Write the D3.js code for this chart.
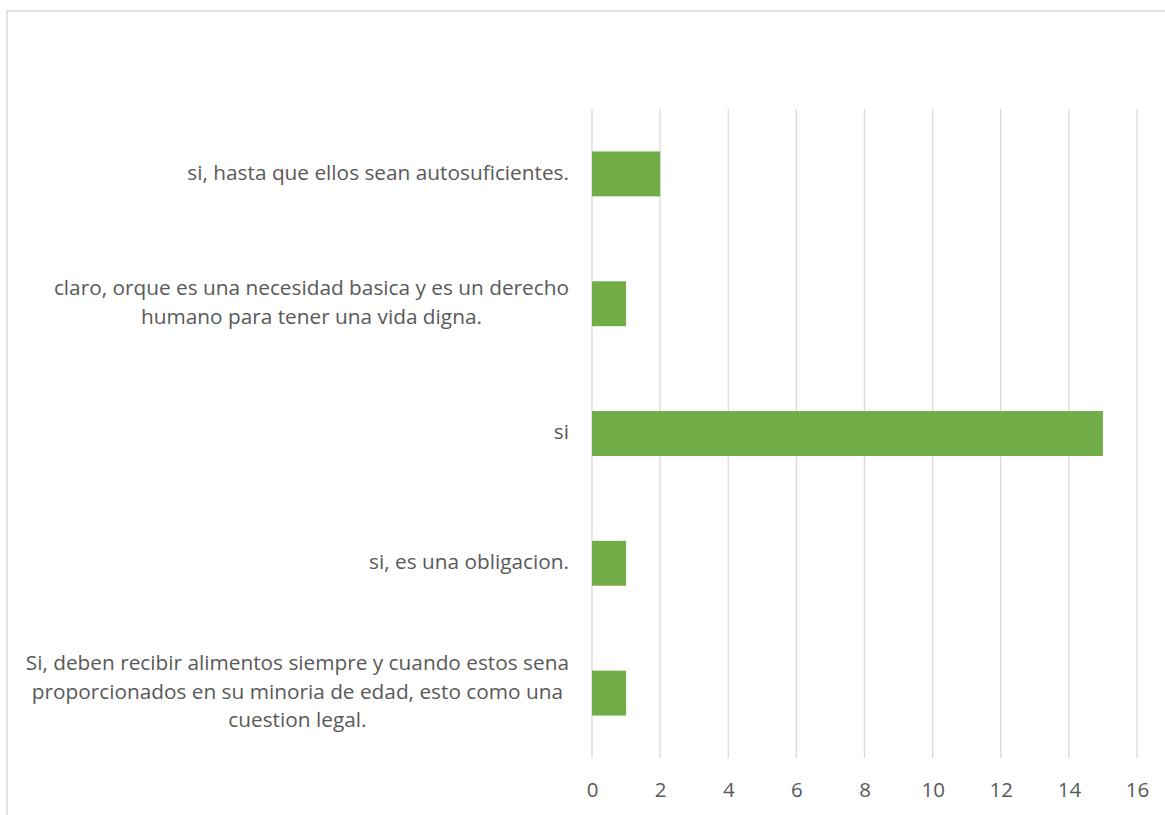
<!DOCTYPE html>
<html><head><meta charset="utf-8">
<script src="https://cdn.jsdelivr.net/npm/d3@7"></script>
<style>html,body{margin:0;padding:0;background:#fff;}</style>
</head><body>
<svg id="chart" width="1165" height="815"></svg>
<script>
const categories = [
  ["si, hasta que ellos sean autosuficientes."],
  ["claro, orque es una necesidad basica y es un derecho", "humano para tener una vida digna."],
  ["si"],
  ["si, es una obligacion."],
  ["Si, deben recibir alimentos siempre y cuando estos sena", "proporcionados en su minoria de edad, esto como una", "cuestion legal."]
];
const values = [2, 1, 15, 1, 1];
const xTicks = [0, 2, 4, 6, 8, 10, 12, 14, 16];

const svg = d3.select("#chart");
const font = "'Open Sans', sans-serif";
const textColor = "#595959";

// chart border
svg.append("rect").attr("x", 7).attr("y", 11).attr("width", 1170).attr("height", 820)
  .attr("fill", "none").attr("stroke", "#d9d9d9").attr("stroke-width", 1.5);

const x = d3.scaleLinear().domain([0, 16]).range([592, 1137]);
const y = d3.scaleBand().domain(d3.range(categories.length)).range([109, 758]).paddingInner(0.654).paddingOuter(0.327);

// gridlines
svg.append("g").selectAll("line").data(xTicks).join("line")
  .attr("x1", d => x(d)).attr("x2", d => x(d))
  .attr("y1", 109).attr("y2", 758)
  .attr("stroke", "#d9d9d9").attr("stroke-width", 1.3);

// bars
svg.append("g").selectAll("rect").data(values).join("rect")
  .attr("x", x(0)).attr("y", (d, i) => y(i))
  .attr("width", d => x(d) - x(0)).attr("height", y.bandwidth())
  .attr("fill", "#70AD47");

// x tick labels
const xAxis = d3.axisBottom(x).tickValues(xTicks).tickSize(0).tickPadding(0);
const gx = svg.append("g").attr("transform", "translate(0,790)").call(xAxis);
gx.select(".domain").remove();
gx.selectAll("text").attr("font-family", font).attr("font-size", 20.5).attr("fill", textColor)
  .attr("y", 0).attr("dy", "0.36em");

// category labels
const fs = 20.8, lh = 28.5, rightEdge = 569;
categories.forEach((lines, i) => {
  const cy = y(i) + y.bandwidth() / 2 - 1.5;
  const g = svg.append("g");
  const texts = lines.map((ln, j) => g.append("text")
    .attr("font-family", font).attr("font-size", fs).attr("fill", textColor)
    .attr("text-anchor", "middle")
    .attr("y", cy + (j - (lines.length - 1) / 2) * lh)
    .attr("dy", "0.35em").text(ln));
  const maxW = d3.max(texts, t => t.node().getComputedTextLength());
  texts.forEach(t => t.attr("x", rightEdge - maxW / 2));
});
</script>
</body></html>
